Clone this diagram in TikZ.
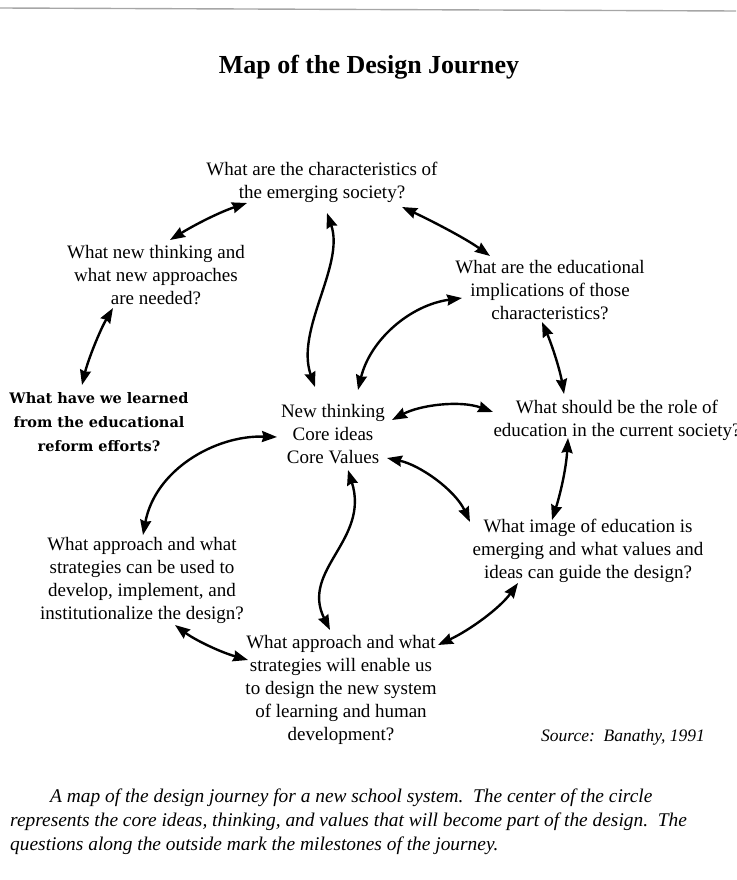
\documentclass[tikz,border=0pt]{standalone}
\usepackage{fontspec}
\setmainfont{Liberation Serif}
\newfontfamily\slabfont{DejaVu Serif}
\usetikzlibrary{arrows.meta}
\begin{document}
\begin{tikzpicture}[x=1pt,y=-1pt,
  question/.style={align=center,inner sep=0pt,font=\fontsize{19}{23}\selectfont},
  link/.style={line width=2.4pt,{Stealth[length=15pt,width=11pt,inset=1.5pt]}-{Stealth[length=15pt,width=11pt,inset=1.5pt]}}]
\useasboundingbox (0,0) rectangle (736,880);
% rule across the top of the page
\draw[gray!70,line width=1.4pt] (0,8) -- (736,11);

\node[font=\fontsize{26}{30}\selectfont\bfseries] (title) at (369,67) {Map of the Design Journey};

% centre of the circle
\node[question] (core) at (333,434) {New thinking\\Core ideas\\Core Values};

% milestones around the circle
\node[question] (society) at (322,182) {What are the characteristics of\\the emerging society?};
\node[question] (implic) at (550,290) {What are the educational\\implications of those\\characteristics?};
\node[question] (role) at (617,420) {What should be the role of\\education in the current society?};
\node[question] (image) at (588,551) {What image of education is\\emerging and what values and\\ideas can guide the design?};
\node[question] (design) at (341,690) {What approach and what\\strategies will enable us\\to design the new system\\of learning and human\\development?};
\node[question] (inst) at (142,580) {What approach and what\\strategies can be used to\\develop, implement, and\\institutionalize the design?};
\node[align=center,inner sep=0pt,font=\slabfont\bfseries\fontsize{14.5}{24}\selectfont] (learned) at (99,422) {What have we learned\\from the educational\\reform efforts?};
\node[question] (thinking) at (156,275) {What new thinking and\\what new approaches\\are needed?};

\node[font=\fontsize{17.5}{20}\selectfont\itshape] (source) at (623,737) {Source:\ \ Banathy, 1991};

\node[anchor=north west,align=left,inner sep=0pt,font=\fontsize{19.4}{24}\selectfont\itshape] (caption) at (10,789)
 {\hspace*{40pt}A map of the design journey for a new school system.\ \ The center of the circle\\
  represents the core ideas, thinking, and values that will become part of the design.\ \ The\\
  questions along the outside mark the milestones of the journey.};

% arrow end points beside the questions
\coordinate (t1) at (170,240);  \coordinate (s1) at (247,203);
\coordinate (s2) at (402,207);  \coordinate (i2) at (490,256);
\coordinate (t3) at (113,308);  \coordinate (l3) at (82,385);
\coordinate (s4) at (327,213);  \coordinate (c4) at (315,387);
\coordinate (c5) at (358,390);  \coordinate (i5) at (462,298);
\coordinate (i6) at (542,322);  \coordinate (r6) at (564,394);
\coordinate (c7) at (392,420);  \coordinate (r7) at (493,412);
\coordinate (c8) at (277,437);  \coordinate (n8) at (143,535);
\coordinate (n9) at (175,625);  \coordinate (d9) at (248,660);
\coordinate (c10) at (348,470); \coordinate (d10) at (330,630);
\coordinate (d11) at (438,645); \coordinate (m11) at (518,583);
\coordinate (c12) at (387,458); \coordinate (m12) at (470,522);
\coordinate (r13) at (568,438); \coordinate (m13) at (552,520);

\draw[link] (t1) .. controls (196,224) and (220,212) .. (s1);
\draw[link] (s2) .. controls (430,220) and (465,238) .. (i2);
\draw[link] (t3) .. controls (100,330) and (88,360) .. (l3);
\draw[link] (s4) .. controls (345,265) and (295,330) .. (c4);
\draw[link] (c5) .. controls (370,340) and (410,305) .. (i5);
\draw[link] (i6) .. controls (552,345) and (560,370) .. (r6);
\draw[link] (c7) .. controls (420,405) and (460,400) .. (r7);
\draw[link] (c8) .. controls (215,435) and (155,470) .. (n8);
\draw[link] (n9) .. controls (195,640) and (220,652) .. (d9);
\draw[link] (c10) .. controls (370,540) and (300,570) .. (d10);
\draw[link] (d11) .. controls (470,630) and (500,608) .. (m11);
\draw[link] (c12) .. controls (420,465) and (455,490) .. (m12);
\draw[link] (r13) .. controls (566,470) and (560,495) .. (m13);
\end{tikzpicture}
\end{document}
